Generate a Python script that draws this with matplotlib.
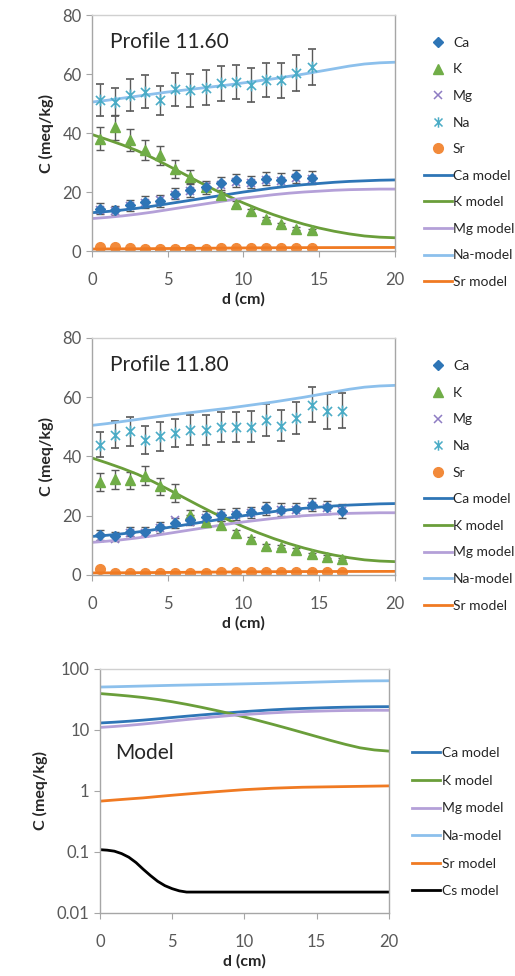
import numpy as np
import matplotlib
matplotlib.use('Agg')
import matplotlib.pyplot as plt
from matplotlib.path import Path
from matplotlib.lines import Line2D

plt.rcParams['font.family'] = ['Lato', 'DejaVu Sans']

# model curves (shared by all three panels), read at 1 cm steps
d_model = list(range(0, 21))
ca_model = [13.0, 13.4, 13.9, 14.5, 15.2, 16.0, 16.8, 17.6, 18.4, 19.2, 20.0,
            20.7, 21.4, 22.0, 22.5, 22.9, 23.3, 23.6, 23.8, 24.0, 24.1]
k_model = [39.5, 37.8, 36.0, 34.0, 31.6, 29.0, 26.3, 23.6, 21.0, 18.6, 16.3,
           14.2, 12.3, 10.6, 9.1, 7.8, 6.7, 5.8, 5.1, 4.7, 4.5]
mg_model = [11.0, 11.4, 11.9, 12.5, 13.2, 14.0, 14.8, 15.6, 16.4, 17.2, 17.9,
            18.5, 19.1, 19.6, 20.0, 20.3, 20.6, 20.8, 20.9, 21.0, 21.0]
na_model = [50.5, 51.1, 51.8, 52.5, 53.2, 53.9, 54.5, 55.1, 55.7, 56.3, 57.0,
            57.7, 58.4, 59.2, 60.0, 60.9, 61.8, 62.7, 63.4, 63.8, 64.0]
sr_model = [0.68, 0.71, 0.74, 0.77, 0.81, 0.85, 0.89, 0.93, 0.97, 1.01, 1.05,
            1.08, 1.11, 1.13, 1.15, 1.16, 1.17, 1.18, 1.19, 1.20, 1.21]
# Cs model read at 0.5 cm steps (steep drop around 3-5 cm)
d_cs = [0, 0.5, 1, 1.5, 2, 2.5, 3, 3.5, 4, 4.5, 5, 5.5, 6, 8, 10, 12, 14, 16, 18, 20]
cs_model = [0.109, 0.107, 0.103, 0.094, 0.082, 0.067, 0.052, 0.041, 0.033, 0.028, 0.025,
            0.023, 0.022, 0.022, 0.022, 0.022, 0.022, 0.022, 0.022, 0.022]

# Profile 11.60 measurements
d1 = [0.5, 1.5, 2.5, 3.5, 4.5, 5.5, 6.5, 7.5, 8.5, 9.5, 10.5, 11.5, 12.5, 13.5, 14.5]
ca1 = [14.4, 13.8, 15.5, 16.6, 17.0, 19.5, 20.6, 21.7, 22.9, 24.0, 23.4, 24.5, 24.2, 25.3, 24.9]
ca1_err = [1.8, 1.6, 1.8, 2.0, 2.0, 2.0, 2.2, 2.2, 2.2, 2.2, 2.0, 2.2, 2.2, 2.2, 2.2]
k1 = [38.1, 41.9, 37.6, 34.4, 32.5, 27.9, 25.1, 21.7, 18.9, 16.1, 13.6, 11.0, 9.0, 7.6, 7.0]
k1_err = [4.0, 4.2, 3.6, 3.4, 3.2, 3.0, 2.2, 1.5, 1.2, 1.0, 0.8, 0.6, 0.5, 0.5, 0.4]
mg1 = [14.0, 13.6, 15.2, 16.2, 17.3, 19.0, 20.2, 22.0, 22.5, 23.5, 23.0, 24.0, 23.8, 24.8, 24.5]
na1 = [51.1, 50.6, 52.8, 54.0, 51.1, 54.8, 54.5, 55.4, 56.8, 57.4, 56.2, 57.9, 57.9, 60.4, 62.4]
na1_err = [5.4, 4.8, 5.4, 5.6, 5.0, 5.6, 5.6, 5.8, 5.8, 5.8, 5.8, 5.8, 6.0, 6.0, 6.2]
sr1 = [1.5, 1.3, 1.0, 0.7, 0.6, 0.7, 0.8, 0.8, 0.9, 0.9, 0.9, 0.9, 0.9, 0.9, 1.0]

# Profile 11.80 measurements
d2 = [0.5, 1.5, 2.5, 3.5, 4.5, 5.5, 6.5, 7.5, 8.5, 9.5, 10.5, 11.5, 12.5, 13.5, 14.5, 15.5, 16.5]
ca2 = [13.5, 13.0, 14.6, 14.6, 16.1, 17.5, 18.6, 19.7, 20.3, 20.6, 21.1, 22.5, 22.0, 22.2, 23.7, 22.9, 21.7]
ca2_err = [1.6, 1.6, 1.6, 1.6, 1.8, 1.8, 1.8, 2.0, 2.0, 2.0, 2.0, 2.2, 2.2, 2.2, 2.2, 2.2, 2.4]
k2 = [31.5, 32.3, 31.9, 33.5, 29.9, 27.6, 20.3, 18.0, 16.9, 14.3, 12.1, 9.8, 9.6, 8.5, 7.0, 6.2, 5.3]
k2_err = [3.0, 3.2, 3.0, 3.2, 3.0, 3.0, 1.6, 1.4, 1.2, 1.0, 0.8, 0.7, 0.6, 0.6, 0.5, 0.4, 0.4]
mg2 = [12.5, 12.2, 14.0, 14.2, 15.8, 18.5, 18.0, 19.2, 20.0, 20.2, 20.8, 22.0, 21.8, 22.0, 23.2, 22.6, 21.5]
na2 = [43.9, 47.3, 48.5, 45.6, 46.8, 47.9, 49.0, 49.0, 49.9, 49.9, 50.1, 52.2, 50.4, 53.0, 57.5, 55.2, 55.5]
na2_err = [4.2, 4.6, 4.8, 4.8, 4.8, 4.8, 5.0, 5.0, 5.0, 5.0, 5.2, 5.4, 5.2, 5.4, 6.0, 5.8, 5.8]
sr2 = [2.0, 0.6, 0.6, 0.6, 0.7, 0.7, 0.8, 0.8, 0.9, 0.9, 0.9, 0.9, 0.9, 0.9, 1.0, 1.0, 1.0]

# colours
c_ca = '#2E75B6'
c_k = '#70AD47'
c_mg = '#B4A0D8'
c_mgm = '#8E7CC3'
c_na = '#4BACC6'
c_nam = '#8CC0EC'
c_sr = '#F28A3A'
c_srm = '#F07A22'
c_km = '#6A9E3A'
grey = '#595959'
spine = '#A6A6A6'

# Excel-style "star" marker: an x with a vertical bar through it
star = Path([(-1, -1), (1, 1), (-1, 1), (1, -1), (0, -1.3), (0, 1.3)],
            [Path.MOVETO, Path.LINETO, Path.MOVETO, Path.LINETO, Path.MOVETO, Path.LINETO])


def style_axes(ax):
    for s in ax.spines.values():
        s.set_color(spine)
        s.set_linewidth(1.0)
    ax.spines['top'].set_color('#D0D0D0')
    ax.tick_params(axis='both', colors=spine, labelcolor=grey, labelsize=12,
                   direction='out', length=4)
    ax.tick_params(axis='x', pad=11)
    ax.set_xlim(0, 20)
    ax.set_xticks([0, 5, 10, 15, 20])
    ax.set_xlabel('d (cm)', fontsize=11.5, fontweight='bold', color='#262626', labelpad=3)
    ax.set_ylabel('C (meq/kg)', fontsize=11.5, fontweight='bold', color='#262626', labelpad=6)


def model_lines(ax, with_cs=False):
    ax.plot(d_model, ca_model, color=c_ca, lw=2, label='Ca model')
    ax.plot(d_model, k_model, color=c_km, lw=2, label='K model')
    ax.plot(d_model, mg_model, color=c_mg, lw=2, label='Mg model')
    ax.plot(d_model, na_model, color=c_nam, lw=2, label='Na-model')
    ax.plot(d_model, sr_model, color=c_srm, lw=2, label='Sr model')
    if with_cs:
        ax.plot(d_cs, cs_model, color='black', lw=2, label='Cs model')


def profile_panel(ax, title, d, ca, ca_err, k, k_err, mg, na, na_err, sr):
    eb = dict(ecolor=grey, elinewidth=1, capsize=3, capthick=1, ls='none')
    ax.errorbar(d, na, yerr=na_err, marker=star, ms=8.5, mec=c_na, mfc='none', mew=1.2, **eb)
    ax.errorbar(d, k, yerr=k_err, marker='^', ms=7, mec=c_k, mfc=c_k, **eb)
    ax.errorbar(d, ca, yerr=ca_err, marker='D', ms=5.5, mec=c_ca, mfc=c_ca, **eb)
    ax.plot(d, mg, ls='none', marker='x', ms=6, mec=c_mgm, mew=1.2)
    ax.plot(d, sr, ls='none', marker='o', ms=7, mec=c_sr, mfc=c_sr)
    model_lines(ax)
    ax.set_ylim(0, 80)
    ax.set_yticks([0, 20, 40, 60, 80])
    ax.text(1.2, 71, title, fontsize=15, color='#262626', va='center')
    style_axes(ax)


fig = plt.figure(figsize=(5.15, 9.76), dpi=100)
ax1 = fig.add_axes([0.1786, 0.7428, 0.588, 0.2418])
ax2 = fig.add_axes([0.1786, 0.4109, 0.588, 0.2428])
ax3 = fig.add_axes([0.194, 0.0646, 0.561, 0.250])

profile_panel(ax1, 'Profile 11.60', d1, ca1, ca1_err, k1, k1_err, mg1, na1, na1_err, sr1)
profile_panel(ax2, 'Profile 11.80', d2, ca2, ca2_err, k2, k2_err, mg2, na2, na2_err, sr2)

model_lines(ax3, with_cs=True)
ax3.set_yscale('log')
ax3.set_ylim(0.01, 100)
ax3.set_yticks([0.01, 0.1, 1, 10, 100])
ax3.set_yticklabels(['0.01', '0.1', '1', '10', '100'])
ax3.minorticks_off()
ax3.text(1.05, 4.2, 'Model', fontsize=15, color='#262626', va='center')
style_axes(ax3)

# legends
data_handles = [
    Line2D([], [], ls='none', marker='D', ms=5, color=c_ca),
    Line2D([], [], ls='none', marker='^', ms=6.5, color=c_k),
    Line2D([], [], ls='none', marker='x', ms=6, mew=1.1, color=c_mgm),
    Line2D([], [], ls='none', marker=star, ms=7.5, mew=1.1, color=c_na),
    Line2D([], [], ls='none', marker='o', ms=7, color=c_sr),
]
data_labels = ['Ca', 'K', 'Mg', 'Na', 'Sr']
model_handles, model_labels = ax1.get_legend_handles_labels()
leg_kw = dict(frameon=False, fontsize=10, handlelength=2.0, handletextpad=0.1,
              labelspacing=1.05, borderaxespad=0, labelcolor='#262626')
ax1.legend(data_handles + model_handles, data_labels + model_labels,
           loc='upper left', bbox_to_anchor=(0.812, 0.968), bbox_transform=fig.transFigure, **leg_kw)
mh2, ml2 = ax2.get_legend_handles_labels()
ax2.legend(data_handles + mh2, data_labels + ml2,
           loc='upper left', bbox_to_anchor=(0.812, 0.6365), bbox_transform=fig.transFigure, **leg_kw)
mh3, ml3 = ax3.get_legend_handles_labels()
ax3.legend(mh3, ml3, loc='upper left', bbox_to_anchor=(0.79, 0.240),
           bbox_transform=fig.transFigure, **dict(leg_kw, labelspacing=1.12))

fig.savefig('out.png', dpi=100)
